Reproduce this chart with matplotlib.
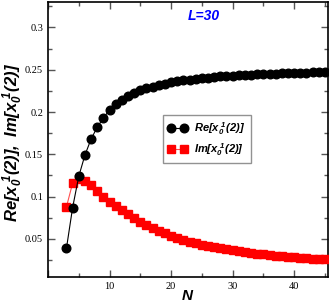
import numpy as np
import matplotlib
import matplotlib.pyplot as plt
from matplotlib.ticker import MultipleLocator, FuncFormatter

matplotlib.use('agg')

plt.rcParams['font.family'] = 'Liberation Serif'
plt.rcParams['mathtext.fontset'] = 'custom'
plt.rcParams['mathtext.rm'] = 'Liberation Sans:bold:italic'
plt.rcParams['mathtext.it'] = 'Liberation Sans:bold:italic'
plt.rcParams['mathtext.bf'] = 'Liberation Sans:bold:italic'

N = list(range(3, 46))
re_x = [0.039, 0.087, 0.124, 0.149, 0.168, 0.182, 0.193, 0.2025, 0.209, 0.2145,
        0.219, 0.2225, 0.2255, 0.228, 0.230, 0.232, 0.2335, 0.235, 0.2362, 0.2373,
        0.2383, 0.2392, 0.240, 0.2407, 0.2414, 0.242, 0.2425, 0.243, 0.2435, 0.2439,
        0.2443, 0.2446, 0.2449, 0.2452, 0.2455, 0.2457, 0.2459, 0.2461, 0.2463, 0.2465,
        0.2467, 0.2468, 0.247]
im_x = [0.088, 0.1159, 0.1206, 0.1182, 0.1135, 0.1068, 0.1, 0.094, 0.0886, 0.0838,
        0.0791, 0.0744, 0.0704, 0.0665, 0.0633, 0.0597, 0.0566, 0.0538, 0.0512, 0.049,
        0.0469, 0.045, 0.0433, 0.0417, 0.0402, 0.0389, 0.0377, 0.0366, 0.0355, 0.0345,
        0.0336, 0.0327, 0.0319, 0.0311, 0.0304, 0.0297, 0.0290, 0.0284, 0.0278, 0.0272,
        0.0267, 0.0262, 0.0257]

fig = plt.figure(figsize=(3.32, 3.04), dpi=100)
ax = fig.add_axes([48/332, 1 - 277/304, 280/332, 275/304])

ax.plot(N, re_x, '-o', color='black', lw=0.8, ms=6.2, zorder=4,
        label=r'$Re[x_0^{\ 1}(2)]$')
ax.plot(N, im_x, '-s', color='#ff5050', mfc='red', mec='red', lw=0.8, ms=5.6,
        zorder=3, label=r'$Im[x_0^{\ 1}(2)]$')

ax.set_xlim(0, 45.5)
ax.set_ylim(0.005, 0.33)
ax.xaxis.set_major_locator(MultipleLocator(10))
ax.xaxis.set_minor_locator(MultipleLocator(5))
ax.yaxis.set_major_locator(MultipleLocator(0.05))
ax.yaxis.set_minor_locator(MultipleLocator(0.025))
ax.xaxis.set_major_formatter(FuncFormatter(lambda v, p: '' if v == 0 else '%g' % v))
ax.yaxis.set_major_formatter(FuncFormatter(lambda v, p: '%g' % round(v, 3)))
ax.tick_params(which='both', direction='in', top=True, right=True,
               labelsize=7.5, width=1, color='#555555')
ax.tick_params(which='major', length=5)
ax.tick_params(which='minor', length=3)
for s in ax.spines.values():
    s.set_linewidth(1.2)

ax.set_xlabel(r'$N$', fontsize=11)
ax.xaxis.set_label_coords((188 - 48) / 280, -(296 - 277) / 275)
ax.set_ylabel(r'$Re[x_0^{\ 1}(2)],\ Im[x_0^{\ 1}(2)]$', fontsize=12)
ax.yaxis.set_label_coords(-(48 - 13) / 280, (277 - 142) / 275)
ax.yaxis.label.set_va('center')
ax.xaxis.label.set_va('center')
ax.text(0.555, 0.95, 'L=30', transform=ax.transAxes, color='blue',
        fontsize=10, fontweight='bold', style='italic', family='Liberation Sans',
        ha='center', va='center')

leg = ax.legend(loc='upper left', bbox_to_anchor=(0.41, 0.59), fontsize=8,
                frameon=True, fancybox=False, handlelength=1.8, numpoints=2,
                borderpad=0.45, labelspacing=0.45, handletextpad=0.6,
                borderaxespad=0)
leg.get_frame().set_edgecolor('#777777')
leg.get_frame().set_linewidth(1)

fig.savefig('out.png', dpi=100)
